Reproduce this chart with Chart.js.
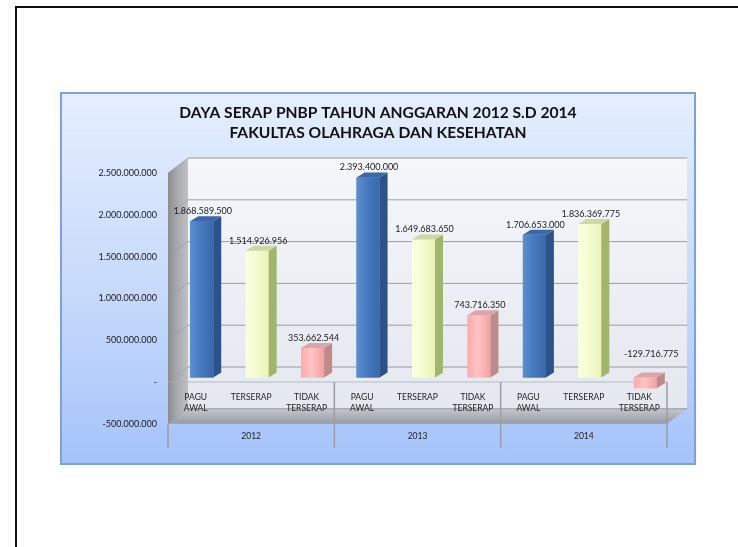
<!DOCTYPE html>
<html>
<head>
<meta charset="utf-8">
<script src="https://cdn.jsdelivr.net/npm/chart.js@4.4.0/dist/chart.umd.min.js"></script>
<style>
  html, body { margin: 0; padding: 0; background: #fff; }
  body { width: 738px; height: 547px; position: relative; overflow: hidden; }
  .slide { position: absolute; left: 15px; top: 6px; width: 800px; height: 600px;
           border-left: 2px solid #111; border-top: 2px solid #111; }
  .panel { position: absolute; left: 60px; top: 92px; width: 632px; height: 369px;
           border: 2px solid #7ba2dd;
           background: linear-gradient(to bottom, #e4eefd 0%, #c9dbfb 50%, #a5c3fa 100%); }
  .wrap { position: absolute; left: 60px; top: 92px; width: 636px; height: 373px; }
</style>
</head>
<body>
<div class="slide"></div>
<div class="panel"></div>
<div class="wrap"><canvas id="chart" width="636" height="373"></canvas></div>
<script>
const YEARS = ['2012', '2013', '2014'];
const ITEMS = [['PAGU', 'AWAL'], 'TERSERAP', ['TIDAK', 'TERSERAP']];
const PAGU_AWAL = [1868589500, 2393400000, 1706653000];
const TERSERAP = [1514926956, 1649683650, 1836369775];
const TIDAK_TERSERAP = [353662544, 743716350, -129716775];
const Y_MIN = -500000000;
const Y_MAX = 2500000000;
const Y_STEP = 500000000;

const LABELS = YEARS.flatMap(() => ITEMS);
const VALUES = YEARS.flatMap((yr, i) => [PAGU_AWAL[i], TERSERAP[i], TIDAK_TERSERAP[i]]);

// 3d look: offsets from the bar plane
const BACK = { x: 14, y: -10.5 };
const FRONT = { x: -6, y: 4.5 };
const BAR_DEPTH = { x: 8, y: -5 };

const FRONT_COLORS = [
  ['#5b8fd1', '#4679be', '#3a68aa'],
  ['#fbffe4', '#f4fcce', '#e9f3b8'],
  ['#ffa9a9', '#ffc4c4', '#f3a0a0']
];
const SIDE_COLORS = ['#2c5289', '#a2b56c', '#c08a8a'];
const TOP_COLORS = ['#3b69a8', '#ccd9a2', '#d9a7a7'];

function fmt(v) {
  if (v === 0) return '-';
  const s = Math.abs(v).toString().replace(/\B(?=(\d{3})+(?!\d))/g, '.');
  return v < 0 ? '-' + s : s;
}

function poly(ctx, pts, fill) {
  ctx.beginPath();
  ctx.moveTo(pts[0][0], pts[0][1]);
  pts.slice(1).forEach(p => ctx.lineTo(p[0], p[1]));
  ctx.closePath();
  ctx.fillStyle = fill;
  ctx.fill();
}

const walls = {
  id: 'walls',
  beforeDraw(chart) {
    const { ctx, chartArea: a, scales: { y } } = chart;
    ctx.save();
    let g = ctx.createLinearGradient(0, a.top + BACK.y, 0, a.bottom + BACK.y);
    g.addColorStop(0, '#f4f6fa');
    g.addColorStop(1, '#e4e8ef');
    ctx.fillStyle = g;
    ctx.fillRect(a.left + BACK.x, a.top + BACK.y, a.right - a.left, a.bottom - a.top);

    g = ctx.createLinearGradient(a.left + FRONT.x, 0, a.left + BACK.x, 0);
    g.addColorStop(0, '#8a8c90');
    g.addColorStop(0.4, '#a4a6aa');
    g.addColorStop(1, '#bfc1c5');
    poly(ctx, [
      [a.left + FRONT.x, a.top + FRONT.y], [a.left + BACK.x, a.top + BACK.y],
      [a.left + BACK.x, a.bottom + BACK.y], [a.left + FRONT.x, a.bottom + FRONT.y]
    ], g);

    g = ctx.createLinearGradient(0, a.bottom + BACK.y, 0, a.bottom + FRONT.y);
    g.addColorStop(0, '#c4c7cd');
    g.addColorStop(1, '#979aa1');
    poly(ctx, [
      [a.left + BACK.x, a.bottom + BACK.y], [a.right + BACK.x, a.bottom + BACK.y],
      [a.right + FRONT.x, a.bottom + FRONT.y], [a.left + FRONT.x, a.bottom + FRONT.y]
    ], g);

    ctx.lineWidth = 1;
    y.ticks.forEach(t => {
      const py = y.getPixelForValue(t.value);
      ctx.strokeStyle = 'rgba(130,130,130,0.75)';
      ctx.beginPath();
      ctx.moveTo(a.left + BACK.x, py + BACK.y);
      ctx.lineTo(a.right + BACK.x, py + BACK.y);
      ctx.stroke();
      ctx.strokeStyle = 'rgba(150,150,150,0.5)';
      ctx.beginPath();
      ctx.moveTo(a.left + FRONT.x, py + FRONT.y);
      ctx.lineTo(a.left + BACK.x, py + BACK.y);
      ctx.stroke();
    });
    ctx.restore();
  },
  beforeDatasetsDraw(chart) {
    const { ctx, chartArea: a, scales: { y, x2 } } = chart;
    const y0 = y.getPixelForValue(0) + FRONT.y;
    const half = (x2.getPixelForValue(1) - x2.getPixelForValue(0)) / 2;
    ctx.save();
    ctx.strokeStyle = 'rgba(170,175,185,0.8)';
    ctx.lineWidth = 1;
    ctx.beginPath();
    ctx.moveTo(a.left + FRONT.x, y0);
    ctx.lineTo(a.right + FRONT.x, y0);
    ctx.stroke();
    ctx.strokeStyle = '#9a9ca2';
    ctx.lineWidth = 1.5;
    for (let i = 0; i <= YEARS.length; i++) {
      const px = x2.getPixelForValue(0) - half + i * 2 * half + FRONT.x;
      ctx.beginPath();
      ctx.moveTo(px, i === 0 ? a.bottom + FRONT.y : y0);
      ctx.lineTo(px, x2.top + 28.7);
      ctx.stroke();
    }
    ctx.restore();
  },
  afterDatasetDraw(chart, args) {
    const ctx = chart.ctx;
    ctx.save();
    args.meta.data.forEach((bar, i) => {
      const { x, y, base, width } = bar.getProps(['x', 'y', 'base', 'width'], true);
      const l = x - width / 2, r = x + width / 2;
      const t = Math.min(y, base), b = Math.max(y, base);
      const k = i % ITEMS.length;
      const c = FRONT_COLORS[k];
      const g = ctx.createLinearGradient(l, 0, r, 0);
      g.addColorStop(0, c[0]);
      g.addColorStop(0.45, c[1]);
      g.addColorStop(1, c[2]);
      ctx.fillStyle = g;
      ctx.fillRect(l, t, width, b - t);
      poly(ctx, [[r, t], [r + BAR_DEPTH.x, t + BAR_DEPTH.y], [r + BAR_DEPTH.x, b + BAR_DEPTH.y], [r, b]], SIDE_COLORS[k]);
      poly(ctx, [[l, t], [l + BAR_DEPTH.x, t + BAR_DEPTH.y], [r + BAR_DEPTH.x, t + BAR_DEPTH.y], [r, t]], TOP_COLORS[k]);
    });
    ctx.restore();
  },
  afterDatasetsDraw(chart) {
    const ctx = chart.ctx;
    const meta = chart.getDatasetMeta(0);
    ctx.save();
    ctx.font = '9px Lato';
    ctx.fillStyle = '#1a1a1a';
    ctx.textAlign = 'center';
    ctx.textBaseline = 'middle';
    meta.data.forEach((bar, i) => {
      const v = VALUES[i];
      if (v >= 0) ctx.fillText(fmt(v), bar.x + 1, bar.y - 10);
      else ctx.fillText(fmt(v), bar.x + 6, bar.base - 23);
    });
    ctx.restore();
  }
};

new Chart(document.getElementById('chart'), {
  type: 'bar',
  data: {
    labels: LABELS,
    datasets: [{
      data: VALUES,
      backgroundColor: VALUES.map((v, i) => FRONT_COLORS[i % ITEMS.length][1]),
      borderWidth: 0,
      barPercentage: 0.415,
      categoryPercentage: 1
    }]
  },
  options: {
    responsive: false,
    animation: false,
    layout: { padding: { top: 11, left: 23, right: 23, bottom: 25.7 } },
    plugins: {
      legend: { display: false },
      tooltip: { enabled: false },
      title: {
        display: true,
        text: ['DAYA SERAP PNBP TAHUN ANGGARAN 2012 S.D 2014', 'FAKULTAS OLAHRAGA DAN KESEHATAN'],
        color: '#111',
        font: { family: 'Lato', size: 15.6, weight: 'bold', lineHeight: 20 / 15.6 },
        padding: { top: 0, bottom: 25.5 }
      }
    },
    scales: {
      x: {
        offset: true,
        weight: 0,
        grid: { display: false, drawTicks: false },
        border: { display: false },
        ticks: {
          mirror: true,
          padding: 16.6, labelOffset: -6, autoSkip: false, maxRotation: 0,
          color: '#222', font: { family: 'Lato', size: 8.5, lineHeight: 1.35 }
        },
        afterFit: s => { s.height = 0; }
      },
      x2: {
        type: 'category',
        labels: YEARS,
        position: 'bottom',
        offset: true,
        weight: 1,
        grid: { display: false, drawTicks: false },
        border: { display: false },
        ticks: { padding: 12, labelOffset: -6, color: '#222', font: { family: 'Lato', size: 8.5 } },
        afterFit: s => { s.height = 20; }
      },
      y: {
        min: Y_MIN,
        max: Y_MAX,
        grid: { display: false, drawTicks: false },
        border: { display: false },
        ticks: {
          stepSize: Y_STEP, padding: 17, labelOffset: 4.5,
          color: '#1a1a1a', font: { family: 'Lato', size: 9 },
          callback: v => fmt(v)
        },
        afterFit: s => { s.width = 91; }
      }
    }
  },
  plugins: [walls]
});
</script>
</body>
</html>
